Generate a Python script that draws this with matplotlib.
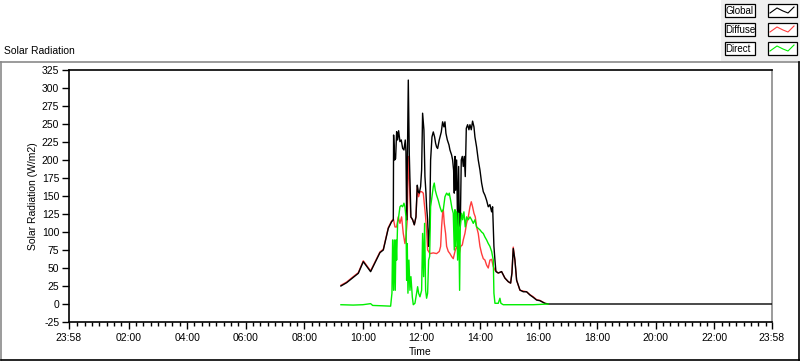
import matplotlib
matplotlib.use("Agg")
import matplotlib.pyplot as plt
from matplotlib.patches import Rectangle
from matplotlib.lines import Line2D
import numpy as np

plt.rcParams['font.family'] = ['Liberation Sans', 'DejaVu Sans']

# ---------------- data (minutes after midnight, W/m2) ----------------
global_t = [555, 566.7, 580.3, 590.6, 600.8, 615.8, 634.9, 641.8, 652, 658.8, 662.3,
            662.9, 665, 667, 669.1, 671.1, 673.2, 675.9, 678.6, 681.4, 684.1, 686.8, 688.2,
            689.6, 690.9, 693, 695, 696.4, 698.4, 701.9, 705.3, 708.7, 711.4, 713.5, 715.5,
            718.2, 720.3, 722.3, 725, 727.1, 729.2, 730.5, 732.6, 734.6, 736.7, 738.7, 741.5,
            744.2, 746.9, 749, 751, 753.1, 756.5, 760.6, 763.3, 766, 768.1, 770.1, 772.9,
            776.3, 778.3, 781.7, 783.8, 785.8, 787.2, 788.6, 789.9, 792, 794, 796.1, 797.4,
            799.5, 801.5, 803.6, 805.6, 807.7, 809.7, 811.8, 814.5, 817.2, 819.3, 822, 824.7,
            827.5, 829.5, 832.9, 836.3, 839.8, 843.2, 846.6, 850, 853.4, 856.8, 860.2, 863.7,
            865.7, 868.4, 870.5, 872.5, 877.3, 884.1, 890.9, 897.8, 902.6, 905.3, 908, 911.4,
            914.9, 921.7, 928.5, 935.3, 942.2, 949, 955.8, 962.6, 972.9, 979.7, 1438]
global_v = [25, 29.6, 37, 42.6, 58.8, 44.9, 71.3, 75, 105, 114.3, 116.7,
            234.7, 200, 202, 239.4, 227.8, 240.7, 225.5, 227.8, 216.2, 213.9, 227.8, 211.6,
            116.7, 186, 311, 209, 172, 121, 117, 110, 121, 165, 156, 154,
            163, 186, 265, 242, 177, 154, 135, 117, 80, 107, 200, 232,
            239, 232, 223, 218, 216, 228, 239, 253, 246, 253, 237, 228,
            221, 214, 207, 200, 186, 154, 205, 158, 200, 107, 191, 117,
            107, 200, 205, 191, 205, 177, 244, 249, 242, 249, 242, 254,
            246, 232, 218, 200, 186, 168, 156, 151, 144, 135, 138, 128,
            135, 80, 61, 45, 43, 45, 36, 31, 29, 43, 77, 61,
            33, 19.4, 17, 17, 12.5, 9.2, 5.5, 4.6, 0.9, 0, 0]

diffuse_t = [555, 566.7, 580.3, 590.6, 600.8, 615.8, 634.9, 641.8, 652, 658.8, 662.3,
             662.9, 665.7, 669.1, 672.5, 675.9, 679.3, 682.7, 686.1, 688.2, 690.9, 693, 695,
             697.8, 701.9, 705.3, 708.7, 711.4, 714.1, 716.9, 720.3, 723.7, 725.7, 727.8,
             730.5, 732.6, 734.6, 737.4, 744.2, 751, 756.5, 759.2, 761.3, 763.3, 764.7, 766.7,
             769.4, 771.5, 774.9, 778.3, 781.7, 785.1, 788.6, 792, 794.7, 797.4, 800.2, 803.6,
             805.6, 809, 812.4, 815.9, 819.3, 822, 824.7, 827.5, 830.2, 832.9, 836.3, 839.8,
             843.2, 846.6, 850, 853.4, 856.8, 860.2, 863.7, 867.1, 870.5, 873.9, 877.3, 884.1,
             890.9, 897.8, 902.6, 905.3, 908, 911.4, 914.9, 921.7, 928.5, 935.3, 942.2, 949,
             955.8, 962.6, 972.9, 979.7]
diffuse_v = [26, 30.5, 38, 43.5, 60, 46, 72.3, 76, 106, 115.3, 117.7,
             116.7, 107, 107, 121, 112, 121, 98, 84, 93.5, 116.7, 205, 177,
             121, 117, 110, 121, 163, 149, 156, 156, 154, 140, 126,
             103, 75, 73, 70, 71, 70, 73, 80, 108, 126, 131, 112,
             98, 80, 73, 70, 66, 63, 73, 80, 75, 70, 80, 82,
             89, 98, 112, 121, 135, 142, 135, 126, 121, 107, 98, 80,
             70, 63, 61, 54, 50, 61, 62, 52, 47, 45, 43, 45,
             36, 31, 29, 43, 79, 61, 33, 19, 18, 17, 13, 10,
             6, 5, 1, 0]

direct_t = [555, 580, 600, 615.8, 620, 640, 656.8, 659.5, 660.9, 662.9, 664.3, 666.3,
            667.7, 669.1, 671.1, 673.2, 675.9, 678.6, 681.4, 684.1, 686.1, 688.2, 689.6,
            690.9, 692.3, 694.3, 696.4, 698.4, 701.2, 703.2, 706.6, 710, 712.1, 714.1, 716.9,
            720.3, 722.3, 724.4, 726.4, 728.5, 730.5, 732.6, 734.6, 736.7, 738.7, 741.5,
            744.2, 746.2, 748.3, 751, 754.4, 757.8, 761.3, 764.7, 768.1, 771.5, 774.9, 776.9,
            779.7, 782.4, 785.1, 787.2, 788.6, 789.9, 792, 794, 796.1, 798.1, 799.5, 802.2,
            804.3, 806.9, 809.7, 812.4, 815.9, 819.3, 822.7, 826.1, 829.5, 832.9, 836.3,
            839.8, 843.2, 846.6, 850, 853.4, 856.8, 860.2, 863.7, 867.1, 868.4, 870.5, 877.3,
            880.7, 882.7, 887.5, 908, 949, 979.7]
direct_v = [-1, -1.5, -1, 0.5, -2, -2.5, -3, 15, 89, 19, 89, 19,
            89, 61, 112, 121, 135, 137, 135, 140, 135, 121, 33,
            84, 15, 61, 19, 38, 10, -1, 1, 15, 24, 15, 10,
            19, 98, 38, 112, 19, 8, 15, 61, 66, 135, 149,
            163, 168, 158, 151, 144, 135, 128, 131, 149, 154, 151, 154,
            144, 133, 126, 75, 131, 80, 128, 61, 126, 19, 107, 126,
            117, 128, 107, 121, 117, 121, 117, 112, 117, 107, 105,
            103, 100, 98, 93, 89, 84, 80, 73, 61, 15, 1, 1,
            8, 1, -1, -1, -1, 0]

x_start, x_end = -2, 1438
xtick_vals = [-2, 120, 240, 360, 480, 600, 720, 840, 960, 1080, 1200, 1320, 1438]
xtick_labels = ["23:58", "02:00", "04:00", "06:00", "08:00", "10:00", "12:00",
                "14:00", "16:00", "18:00", "20:00", "22:00", "23:58"]
ytick_vals = list(range(-25, 326, 25))

# ---------------- figure ----------------
W, H = 800, 361
fig = plt.figure(figsize=(W / 100, H / 100), dpi=100)
fig.patch.set_facecolor('white')

def fx(px):
    return px / W

def fy(py):
    return 1 - py / H

# legend panel background
fig.patches.append(Rectangle((fx(721), fy(61)), fx(800) - fx(721), fy(0) - fy(61),
                             transform=fig.transFigure, facecolor='#f0f0f0',
                             edgecolor='none', zorder=0))
# outer frame
fig.lines.append(Line2D([fx(0), fx(799)], [fy(61.5), fy(61.5)], transform=fig.transFigure,
                        color='#8a8a8a', lw=1.2))
fig.lines.append(Line2D([fx(1), fx(1)], [fy(61.5), fy(360)], transform=fig.transFigure,
                        color='#8a8a8a', lw=1.2))
fig.lines.append(Line2D([fx(1), fx(799.5)], [fy(360), fy(360)], transform=fig.transFigure,
                        color='black', lw=1.2))
fig.lines.append(Line2D([fx(799.3), fx(799.3)], [fy(61.5), fy(360)], transform=fig.transFigure,
                        color='black', lw=1.2))

ax = fig.add_axes([fx(69), fy(322), fx(772) - fx(69), fy(70) - fy(322)])
ax.set_facecolor('white')

ax.plot(diffuse_t, diffuse_v, color='#ff3c3c', lw=1.0, zorder=3)
ax.plot(global_t, global_v, color='black', lw=1.0, zorder=4)
ax.plot(direct_t, direct_v, color='#00ee00', lw=1.0, zorder=5)

ax.set_xlim(x_start, x_end)
ax.set_ylim(-25, 325)

ax.set_yticks(ytick_vals)
ax.set_yticklabels([str(v) for v in ytick_vals])
ax.set_xticks(xtick_vals)
ax.set_xticklabels(xtick_labels)
minor = [m for m in range(0, 1440, 15) if all(abs(m - t) > 3 for t in xtick_vals)]
ax.set_xticks(minor, minor=True)

ax.tick_params(axis='y', length=5, width=1, pad=2, labelsize=7.5, direction='out')
ax.tick_params(axis='x', which='major', length=5, width=1, pad=3, labelsize=7.5, direction='out')
ax.tick_params(axis='x', which='minor', length=3, width=1, direction='out')

for s in ['left', 'bottom', 'top']:
    ax.spines[s].set_color('black')
    ax.spines[s].set_linewidth(1.2)
ax.spines['right'].set_color('#8a8a8a')
ax.spines['right'].set_linewidth(1.2)

# texts
fig.text(fx(4), fy(51), "Solar Radiation", fontsize=7.5, ha='left', va='center')
fig.text(fx(33), (fy(70) + fy(322)) / 2, "Solar Radiation (W/m2)", fontsize=7.5,
         rotation=90, ha='center', va='center')
fig.text((fx(69) + fx(772)) / 2, fy(352), "Time", fontsize=7.5, ha='center', va='center')

# legend (manual, LabVIEW style)
legend_names = ["Global", "Diffuse", "Direct"]
legend_colors = ['black', '#ff3c3c', '#00ee00']
row_tops = [4, 23, 42]
zig_x = [2, 9, 15, 20, 26]
zig_y = [9, 4, 7, 9, 3]
for name, col, top in zip(legend_names, legend_colors, row_tops):
    fig.patches.append(Rectangle((fx(724.5), fy(top + 13)), fx(754.5) - fx(724.5),
                                 fy(top) - fy(top + 13), transform=fig.transFigure,
                                 facecolor='white', edgecolor='black', lw=0.9, zorder=2))
    fig.text(fx(725.5), fy(top + 6.8), name, fontsize=7.0,
             ha='left', va='center', zorder=3)
    fig.patches.append(Rectangle((fx(767.5), fy(top + 13)), fx(796.5) - fx(767.5),
                                 fy(top) - fy(top + 13), transform=fig.transFigure,
                                 facecolor='white', edgecolor='black', lw=0.9, zorder=2))
    fig.lines.append(Line2D([fx(768 + a) for a in zig_x], [fy(top + b) for b in zig_y],
                            transform=fig.transFigure, color=col, lw=0.8, zorder=3))

fig.savefig("out.png", dpi=100)
